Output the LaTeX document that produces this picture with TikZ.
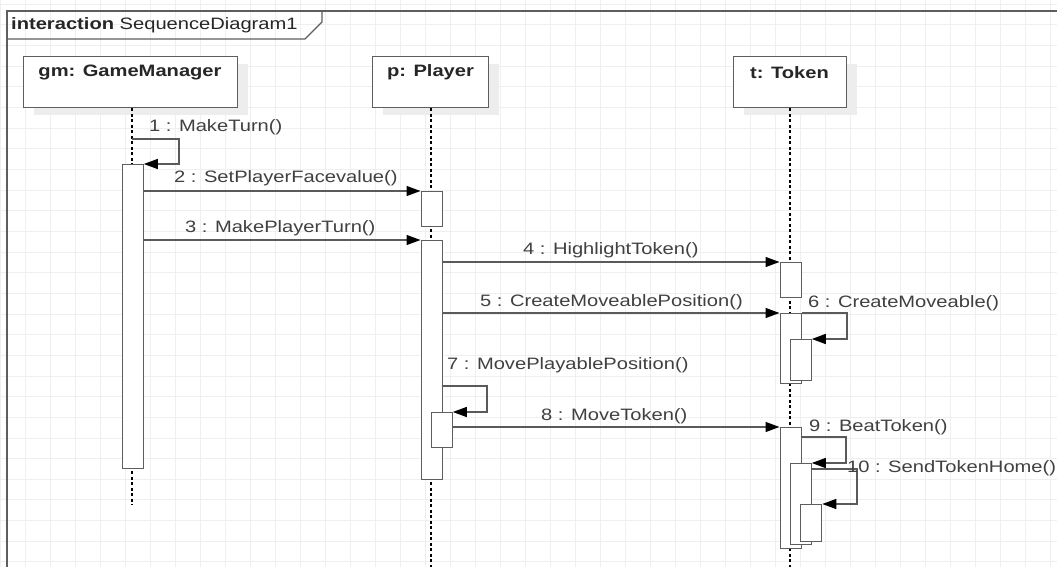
\documentclass[tikz,border=0pt]{standalone}
\usepackage{fontspec}
\setmainfont{Liberation Sans}
\usetikzlibrary{arrows.meta}
\definecolor{gridc}{HTML}{EFEFEF}
\definecolor{linec}{HTML}{5A5A5A}
\definecolor{boxc}{HTML}{5E5E5E}
\definecolor{txtc}{HTML}{404040}
\definecolor{headc}{HTML}{262626}
\definecolor{shadc}{HTML}{EDEDED}
\newcommand{\stxt}[1]{\scalebox{1.22}[1]{#1}}
\tikzset{
  gridline/.style={draw=gridc, line width=1pt},
  frameline/.style={draw=boxc, line width=1.4pt},
  headbox/.style={rectangle, draw=boxc, fill=white, line width=1.4pt, inner sep=0pt, minimum height=51pt, anchor=north west},
  shadowbox/.style={rectangle, fill=shadc, inner sep=0pt, minimum height=51pt, anchor=north west},
  headtext/.style={inner sep=0pt, text=headc, font=\fontsize{16.5}{19}\selectfont\bfseries},
  act/.style={rectangle, draw=boxc, fill=white, line width=1.3pt, inner sep=0pt, minimum width=21pt, anchor=north west},
  lifeline/.style={draw=black, line width=1.3pt, dash pattern=on 3pt off 2.5pt},
  msg/.style={draw=linec, line width=1.3pt, -{Triangle[length=14pt,width=10pt,color=black]}},
  msglabel/.style={inner sep=0pt, anchor=west, text=txtc, font=\fontsize{16.5}{19}\selectfont}
}
\begin{document}
\begin{tikzpicture}[x=1pt,y=-1pt]
\useasboundingbox (0,0) rectangle (1057,567);
% grid
\foreach \i in {0,...,42} \draw[gridline] (25*\i,0) -- (25*\i,567);
\foreach \j in {0,...,27} \draw[gridline] (0,4.35+20.65*\j) -- (1057,4.35+20.65*\j);
% frame
\draw[frameline] (7,567) -- (7,11) -- (1057,11);
\draw[frameline] (7,39) -- (305,39) -- (322,22) -- (322,11);
\node[msglabel, text=headc] (title) at (11,25) {\stxt{\textbf{interaction} SequenceDiagram1}};
% lifeline heads
\node[shadowbox, minimum width=214pt] (gmshadow) at (34,64) {};
\node[shadowbox, minimum width=116pt] (pshadow) at (383,64) {};
\node[shadowbox, minimum width=113pt] (tshadow) at (744,64) {};
\node[headbox, minimum width=214pt] (gmbox) at (23,56) {};
\node[headbox, minimum width=116pt] (pbox) at (372,56) {};
\node[headbox, minimum width=113pt] (tbox) at (733,56) {};
\node[headtext] (gmtext) at (130,72.5) {\stxt{gm: GameManager}};
\node[headtext] (ptext) at (430.5,72.5) {\stxt{p: Player}};
\node[headtext] (ttext) at (789.5,72.5) {\stxt{t: Token}};
% lifeline ends
\coordinate (gmend) at (132,505);
\coordinate (pend) at (431,567);
\coordinate (tend) at (790,567);
\draw[lifeline] (gmend |- gmbox.south) -- (gmend);
\draw[lifeline] (pend |- pbox.south) -- (pend);
\draw[lifeline] (tend |- tbox.south) -- (tend);
% activations
\node[act, minimum height=304pt] (gmA) at (121.5,164) {};
\node[act, minimum height=35pt] (pA1) at (420.5,191) {};
\node[act, minimum height=239pt] (pA2) at (420.5,240) {};
\node[act, minimum height=35pt] (pA3) at (430.5,412) {};
\node[act, minimum height=35pt] (tA1) at (779.5,262) {};
\node[act, minimum height=70pt] (tA2) at (779.5,313) {};
\node[act, minimum height=41pt] (tA3) at (789.5,339) {};
\node[act, minimum height=121pt] (tA4) at (779.5,427) {};
\node[act, minimum height=81pt] (tA5) at (789.5,463) {};
\node[act, minimum height=37pt] (tA6) at (800,504) {};
% loop corners
\coordinate (l1a) at (132,139);
\coordinate (l1b) at (179,164);
\coordinate (l6) at (847,339);
\coordinate (l7a) at (441.5,386);
\coordinate (l7b) at (487,412);
\coordinate (l9a) at (800.5,437);
\coordinate (l9b) at (846,463);
\coordinate (l10a) at (810.5,469);
\coordinate (l10b) at (857,504);
% messages
\draw[msg] (l1a) -- (l1a -| l1b) -- (l1b) -- (gmA.north east);
\draw[msg] (gmA.east |- pA1.north) -- (pA1.north west);
\draw[msg] (gmA.east |- pA2.north) -- (pA2.north west);
\draw[msg] (pA2.east |- tA1.north) -- (tA1.north west);
\draw[msg] (pA2.east |- tA2.north) -- (tA2.north west);
\draw[msg] (tA2.north east) -- (tA2.north east -| l6) -- (l6) -- (tA3.north east);
\draw[msg] (l7a) -- (l7a -| l7b) -- (l7b) -- (pA3.north east);
\draw[msg] (pA3.east |- tA4.north) -- (tA4.north west);
\draw[msg] (l9a) -- (l9a -| l9b) -- (l9b) -- (tA5.north east);
\draw[msg] (l10a) -- (l10a -| l10b) -- (l10b) -- (tA6.north east);
% labels
\node[msglabel] (m1) at (149,127.5) {\stxt{1 : MakeTurn()}};
\node[msglabel] (m2) at (174,178) {\stxt{2 : SetPlayerFacevalue()}};
\node[msglabel] (m3) at (185,228.5) {\stxt{3 : MakePlayerTurn()}};
\node[msglabel] (m4) at (523,250.5) {\stxt{4 : HighlightToken()}};
\node[msglabel] (m5) at (480,302.5) {\stxt{5 : CreateMoveablePosition()}};
\node[msglabel] (m6) at (808,303) {\stxt{6 : CreateMoveable()}};
\node[msglabel] (m7) at (447,365) {\stxt{7 : MovePlayablePosition()}};
\node[msglabel] (m8) at (541,416) {\stxt{8 : MoveToken()}};
\node[msglabel] (m9) at (809,427.5) {\stxt{9 : BeatToken()}};
\node[msglabel] (m10) at (847,468.5) {\stxt{10 : SendTokenHome()}};
\end{tikzpicture}
\end{document}
